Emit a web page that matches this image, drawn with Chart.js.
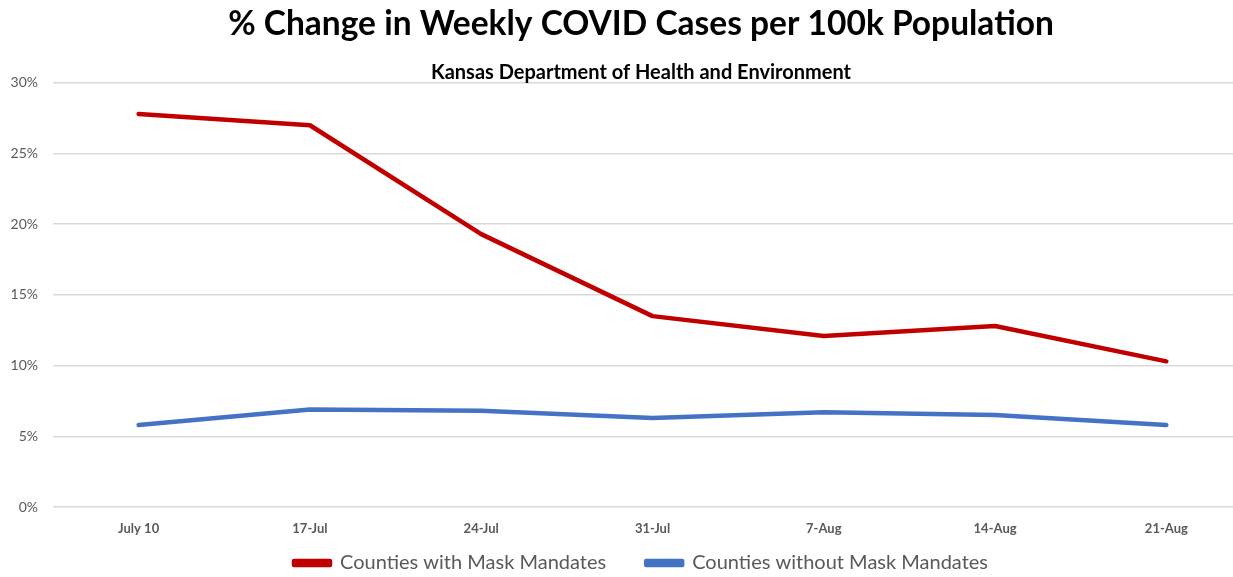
<!DOCTYPE html>
<html>
<head>
<meta charset="utf-8">
<script src="https://cdn.jsdelivr.net/npm/chart.js@4/dist/chart.umd.min.js"></script>
<style>
  html, body { margin: 0; padding: 0; background: #ffffff; }
  #wrap { width: 1233px; height: 577px; overflow: hidden; position: relative; }
  #box { width: 1282px; height: 577px; position: absolute; left: 0; top: 0; }
</style>
</head>
<body>
<div id="wrap"><div id="box"><canvas id="chart"></canvas></div></div>
<script>
// Weekly change in COVID cases per 100k, in percent
const weeks = ['July 10', '17-Jul', '24-Jul', '31-Jul', '7-Aug', '14-Aug', '21-Aug'];
const withMandates = [27.8, 27.0, 19.3, 13.5, 12.1, 12.8, 10.3];
const withoutMandates = [5.8, 6.9, 6.8, 6.3, 6.7, 6.5, 5.8];
const yTicks = [0, 5, 10, 15, 20, 25, 30];

const FONT = 'Lato, "Open Sans", sans-serif';

new Chart(document.getElementById('chart'), {
  type: 'line',
  data: {
    labels: weeks,
    datasets: [
      {
        label: 'Counties with Mask Mandates',
        data: withMandates,
        borderColor: '#C00000',
        backgroundColor: '#C00000',
        borderWidth: 4.5,
        pointRadius: 0,
        tension: 0,
        borderCapStyle: 'round',
        borderJoinStyle: 'round'
      },
      {
        label: 'Counties without Mask Mandates',
        data: withoutMandates,
        borderColor: '#4472C4',
        backgroundColor: '#4472C4',
        borderWidth: 4.5,
        pointRadius: 0,
        tension: 0,
        borderCapStyle: 'round',
        borderJoinStyle: 'round'
      }
    ]
  },
  options: {
    responsive: true,
    maintainAspectRatio: false,
    animation: false,
    layout: { padding: { left: 0, right: 0, top: 6, bottom: -6 } },
    plugins: {
      title: {
        display: true,
        text: '% Change in Weekly COVID Cases per 100k Population',
        color: '#000000',
        font: { family: FONT, size: 33.5, weight: 'bold', lineHeight: 1.1 },
        padding: { top: 0, bottom: 20 }
      },
      subtitle: {
        display: true,
        text: 'Kansas Department of Health and Environment',
        color: '#000000',
        font: { family: FONT, size: 20, weight: 'bold', lineHeight: 1.0 },
        padding: { top: 0, bottom: 0 }
      },
      legend: {
        position: 'bottom',
        labels: {
          boxWidth: 36,
          boxHeight: 4,
          padding: 40,
          color: '#595959',
          font: { family: FONT, size: 20 }
        }
      },
      tooltip: { enabled: false }
    },
    scales: {
      x: {
        offset: true,
        afterFit: (s) => {
          // thin axis box; let the date labels spill below it
          s.height = 6;
          s._computeLabelArea = () => null;
        },
        grid: { display: false },
        border: { display: false },
        ticks: {
          color: '#595959',
          font: { family: FONT, size: 13, weight: 'bold' },
          padding: 6,
          maxRotation: 0
        }
      },
      y: {
        min: 0,
        max: 30,
        afterFit: (s) => { s.width = 53; },
        afterBuildTicks: (s) => { s.ticks = yTicks.map(v => ({ value: v })); },
        grid: { color: '#d9d9d9', lineWidth: 1.5, drawTicks: false },
        border: { display: false },
        ticks: {
          color: '#595959',
          font: { family: FONT, size: 14 },
          padding: 15,
          callback: (v) => v + '%'
        }
      },
      // empty right-hand margin axis: keeps the plot edge off the canvas edge
      yRight: {
        position: 'right',
        afterFit: (s) => { s.width = 30; },
        grid: { display: false },
        border: { display: false },
        ticks: { display: false }
      }
    }
  }
});
</script>
</body>
</html>
